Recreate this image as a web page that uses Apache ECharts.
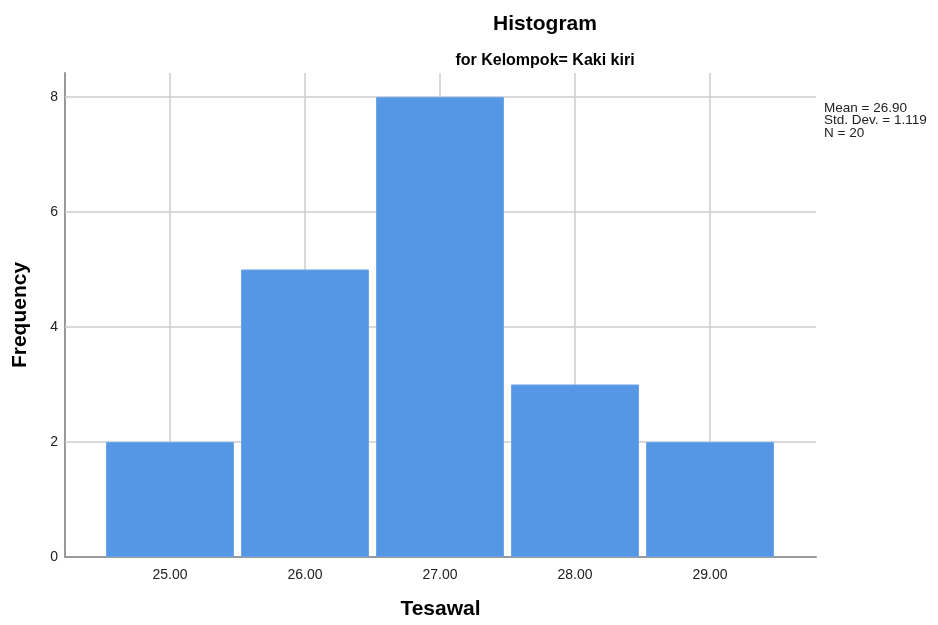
<!DOCTYPE html>
<html><head><meta charset="utf-8">
<script src="https://cdn.jsdelivr.net/npm/echarts@6/dist/echarts.min.js"></script>
<style>html,body{margin:0;padding:0;background:#fff}#c{width:938px;height:625px}</style>
</head><body><div id="c"></div>
<script>
const categories = [25, 26, 27, 28, 29];
const frequencies = [2, 5, 8, 3, 2];
const yTicks = [0, 2, 4, 6, 8];
const statsLines = ['Mean = 26.90', 'Std. Dev. = 1.119', 'N = 20'];

const FONT = 'Arial, "Liberation Sans", sans-serif';
const chart = echarts.init(document.getElementById('c'));
const gridColor = '#cccccc';

chart.setOption({
  animation: false,
  backgroundColor: '#fff',
  title: [
    { text: 'Histogram', left: 540, top: 9, textAlign: 'center',
      textStyle: { fontFamily: FONT, fontSize: 21, fontWeight: 'bold', color: '#000' } },
    { text: 'for Kelompok= Kaki kiri', left: 540, top: 48, textAlign: 'center',
      textStyle: { fontFamily: FONT, fontSize: 16, fontWeight: 'bold', color: '#000' } }
  ],
  grid: { left: 65, right: 122, top: 73, bottom: 66, containLabel: false },
  xAxis: {
    type: 'value', min: 24.222, max: 29.785,
    name: 'Tesawal', nameLocation: 'middle', nameGap: 42,
    nameTextStyle: { fontFamily: FONT, fontSize: 21, fontWeight: 'bold', color: '#000' },
    axisLine: { show: true, lineStyle: { color: '#999', width: 2 } },
    axisTick: { show: false },
    splitLine: { show: false },
    axisLabel: { customValues: categories, formatter: v => Number(v).toFixed(2),
      fontFamily: FONT, fontSize: 14, color: '#222', margin: 11 }
  },
  yAxis: {
    type: 'value', min: 0, max: 8.4156,
    name: 'Frequency', nameLocation: 'middle', nameGap: 34,
    nameTextStyle: { fontFamily: FONT, fontSize: 21, fontWeight: 'bold', color: '#000' },
    axisLine: { show: true, lineStyle: { color: '#999', width: 2 } },
    axisTick: { show: false },
    splitLine: { show: false },
    axisLabel: { customValues: yTicks, fontFamily: FONT, fontSize: 14, color: '#222', margin: 7,
      padding: [4, 0, 0, 0] }
  },
  graphic: [{
    type: 'text', left: 824, top: 101,
    style: { text: statsLines.join('\n'), font: '13.5px ' + FONT, fill: '#222', lineHeight: 12.5 }
  }],
  series: [
    {
      type: 'line', data: [], z: 1, silent: true,
      markLine: {
        silent: true, symbol: 'none', label: { show: false },
        lineStyle: { color: gridColor, type: 'solid', width: 1.5 },
        data: yTicks.filter(v => v > 0).map(v => ({ yAxis: v }))
          .concat(categories.map(v => ({ xAxis: v })))
      }
    },
    {
      type: 'bar', z: 2, zlevel: 1,
      barWidth: 128,
      data: categories.map((c, i) => [c, frequencies[i]]),
      itemStyle: { color: '#5597e5', borderColor: '#6ea6ea', borderWidth: 1 }
    }
  ]
});
</script></body></html>
